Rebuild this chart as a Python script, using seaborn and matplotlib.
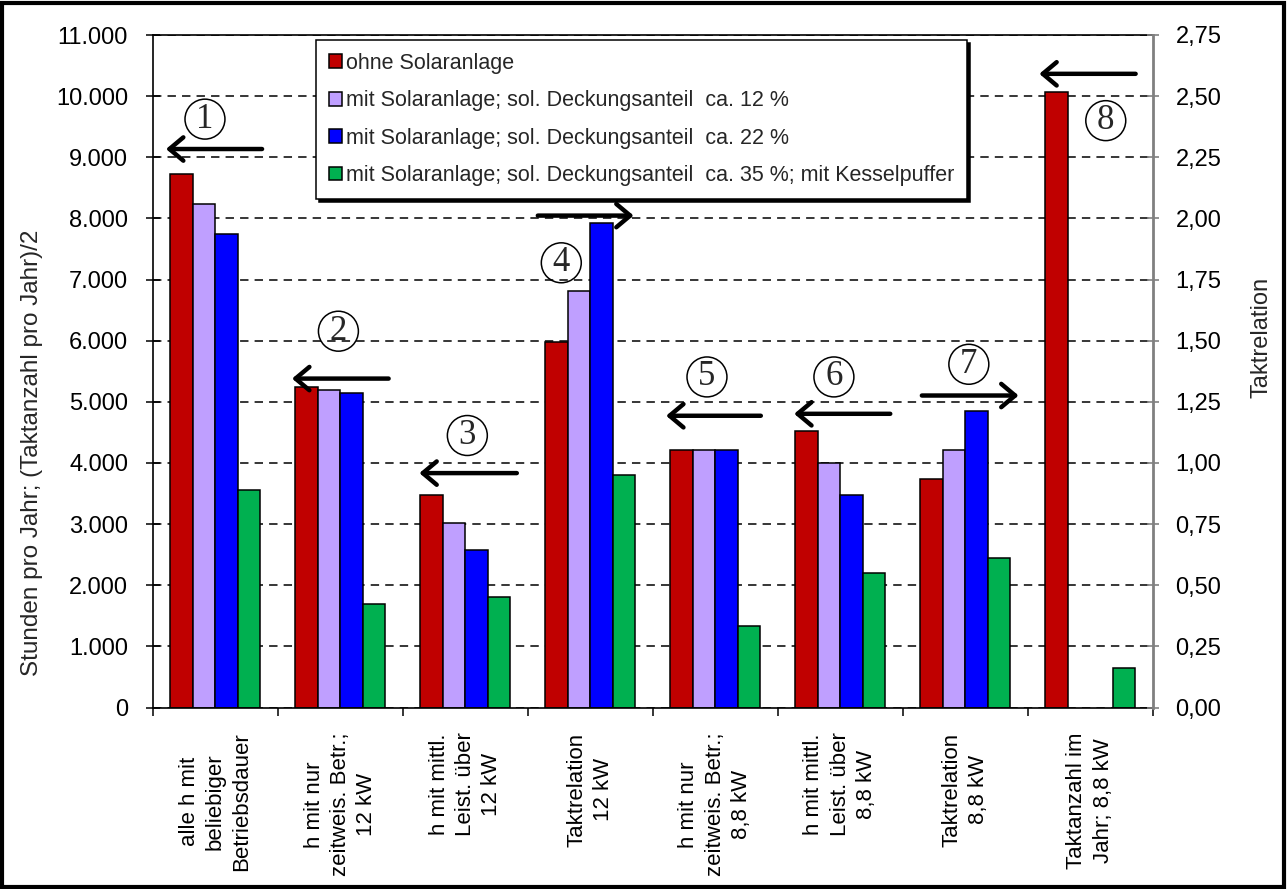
import numpy as np
import pandas as pd
import matplotlib
matplotlib.use("Agg")
import matplotlib.pyplot as plt
from matplotlib.patches import Rectangle
from matplotlib.ticker import FuncFormatter, FixedLocator
import seaborn as sns

# ---------------- data ----------------
categories = [
    "alle h mit\nbeliebiger\nBetriebsdauer",
    "h mit nur\nzeitweis. Betr.;\n12 kW",
    "h mit mittl.\nLeist. über\n12 kW",
    "Taktrelation\n12 kW",
    "h mit nur\nzeitweis. Betr.;\n8,8 kW",
    "h mit mittl.\nLeist. über\n8,8 kW",
    "Taktrelation\n8,8 kW",
    "Taktanzahl im\nJahr; 8,8 kW",
]
series = [
    "ohne Solaranlage",
    "mit Solaranlage; sol. Deckungsanteil  ca. 12 %",
    "mit Solaranlage; sol. Deckungsanteil  ca. 22 %",
    "mit Solaranlage; sol. Deckungsanteil  ca. 35 %; mit Kesselpuffer",
]
ohne_solar = [8730, 5240, 3480, 5980, 4220, 4520, 3740, 10070]
solar_12 = [8240, 5200, 3020, 6820, 4220, 4000, 4220, np.nan]
solar_22 = [7750, 5140, 2580, 7920, 4220, 3480, 4850, np.nan]
solar_35 = [3550, 1700, 1800, 3810, 1340, 2200, 2450, 640]
colors = ["#C00000", "#BF9FFF", "#0000FF", "#00B050"]

left_ticks = list(range(0, 11001, 1000))
right_ticks = [0, 0.25, 0.5, 0.75, 1.0, 1.25, 1.5, 1.75, 2.0, 2.25, 2.5, 2.75]

# circled markers: (number, x, y) in data units; arrows: (tail_x, tip_x, y)
markers = [(1, -0.084, 9624), (2, 0.984, 6155), (3, 2.016, 4449), (4, 2.768, 7274),
           (5, 3.934, 5407), (6, 4.950, 5407), (7, 6.030, 5614), (8, 7.126, 9599)]
arrows = [(0.373, -0.396, 9135), (1.386, 0.613, 5380), (2.412, 1.632, 3834),
          (2.580, 3.347, 8046), (4.365, 3.607, 4772), (5.401, 4.632, 4804),
          (5.654, 6.428, 5103), (7.365, 6.594, 10365)]

rows = []
for s, vals in zip(series, [ohne_solar, solar_12, solar_22, solar_35]):
    for c, v in zip(categories, vals):
        if not np.isnan(v):
            rows.append({"cat": c, "series": s, "val": v})
df = pd.DataFrame(rows)

# ---------------- figure ----------------
sns.set_theme(style="white")
plt.rcParams["font.family"] = ["Liberation Sans", "DejaVu Sans"]

W, H = 1287, 889
fig = plt.figure(figsize=(W / 100, H / 100), dpi=100)
ax = fig.add_axes([153 / W, 1 - 707.5 / H, 999.5 / W, 672.5 / H])

sns.barplot(data=df, x="cat", y="val", hue="series", order=categories,
            hue_order=series, palette=colors, saturation=1, width=0.72,
            edgecolor="black", linewidth=1.1, errorbar=None, ax=ax, legend=True)

ax.set_xlim(-0.5, len(categories) - 0.5)
ax.set_ylim(0, 11000)
ax.set_xlabel("")
ax.set_ylabel("")
ax.set_axisbelow(True)

# grid
ax.yaxis.set_major_locator(FixedLocator(left_ticks))
ax.yaxis.grid(True, color="black", linestyle=(0, (5.5, 4)), linewidth=1.1)
ax.xaxis.grid(False)

ax.yaxis.set_major_formatter(FuncFormatter(lambda v, p: f"{int(v):,}".replace(",", ".")))
ax.tick_params(axis="y", which="major", direction="inout", length=10, width=1.1,
               colors="black", labelsize=17, pad=13, left=True)

ax.set_xticks(range(len(categories)))
ax.set_xticklabels(categories, rotation=90, fontsize=16)
for t in ax.get_xticklabels():
    t.set_multialignment("center")
    t.set_verticalalignment("top")
    t.set_linespacing(1.33)
ax.tick_params(axis="x", which="major", length=0, pad=18, colors="black")
ax.set_xticks(np.arange(-0.5, len(categories), 1.0), minor=True)
ax.tick_params(axis="x", which="minor", direction="out", length=6, width=1.1,
               color="black", bottom=True)

for side in ["left", "bottom", "top"]:
    ax.spines[side].set_visible(True)
    ax.spines[side].set_color("black")
    ax.spines[side].set_linewidth(1.2)
ax.spines["right"].set_visible(False)

# secondary axis
ax2 = ax.twinx()
ax2.set_ylim(0, 2.75)
ax2.yaxis.set_major_locator(FixedLocator(right_ticks))
ax2.yaxis.set_major_formatter(FuncFormatter(lambda v, p: f"{v:.2f}".replace(".", ",")))
ax2.tick_params(axis="y", direction="inout", length=8, width=1.2, color="#808080",
                labelcolor="black", labelsize=17, pad=12.5, right=True)
ax2.grid(False)
for side in ["left", "bottom", "top"]:
    ax2.spines[side].set_visible(False)
ax2.spines["right"].set_visible(True)
ax2.spines["right"].set_color("#808080")
ax2.spines["right"].set_linewidth(2)

# axis labels
ax.text(-0.121, 0.378, "Stunden pro Jahr; (Taktanzahl pro Jahr)/2", transform=ax.transAxes,
        rotation=90, ha="center", va="center", fontsize=17.5)
ax.text(1.1095, 0.55, "Taktrelation", transform=ax.transAxes,
        rotation=90, ha="center", va="center", fontsize=17)

# legend
old = ax.get_legend()
handles = list(old.legend_handles)
labels = [t.get_text() for t in old.get_texts()]
old.remove()
for h in handles:
    h.set_edgecolor("black")
    h.set_linewidth(1.1)
leg = ax.legend(handles, labels, loc="upper left", bbox_to_anchor=(0.163, 0.9926),
                borderaxespad=0, fontsize=15.5, handlelength=0.6, handleheight=0.6,
                handletextpad=0.2, labelspacing=0.76, borderpad=0.6, frameon=True,
                fancybox=False, shadow={"color": "black", "alpha": 1})
leg.get_frame().set_edgecolor("black")
leg.get_frame().set_linewidth(1.1)
leg.get_frame().set_facecolor("white")
leg.get_frame().set_alpha(1)
leg.set_zorder(10)

# annotations: circled numbers and arrows
for n, x, y in markers:
    ax.text(x, y, str(n), ha="center", va="center", fontsize=25,
            family=["Liberation Serif", "DejaVu Serif"], zorder=6,
            bbox=dict(boxstyle="circle,pad=0.1", fc="none", ec="black", lw=1.1))
for x0, x1, y in arrows:
    ax.annotate("", xy=(x1, y), xytext=(x0, y), zorder=6,
                arrowprops=dict(arrowstyle="->,head_length=0.5,head_width=0.42",
                                lw=3.2, color="black", shrinkA=0, shrinkB=0,
                                mutation_scale=20))

# outer frame
fig.patches.append(Rectangle((2 / W, 2 / H), 1 - 5 / W, 1 - 5 / H, transform=fig.transFigure,
                             fill=False, lw=3, ec="black"))

fig.savefig("out.png", dpi=100, facecolor="white")
